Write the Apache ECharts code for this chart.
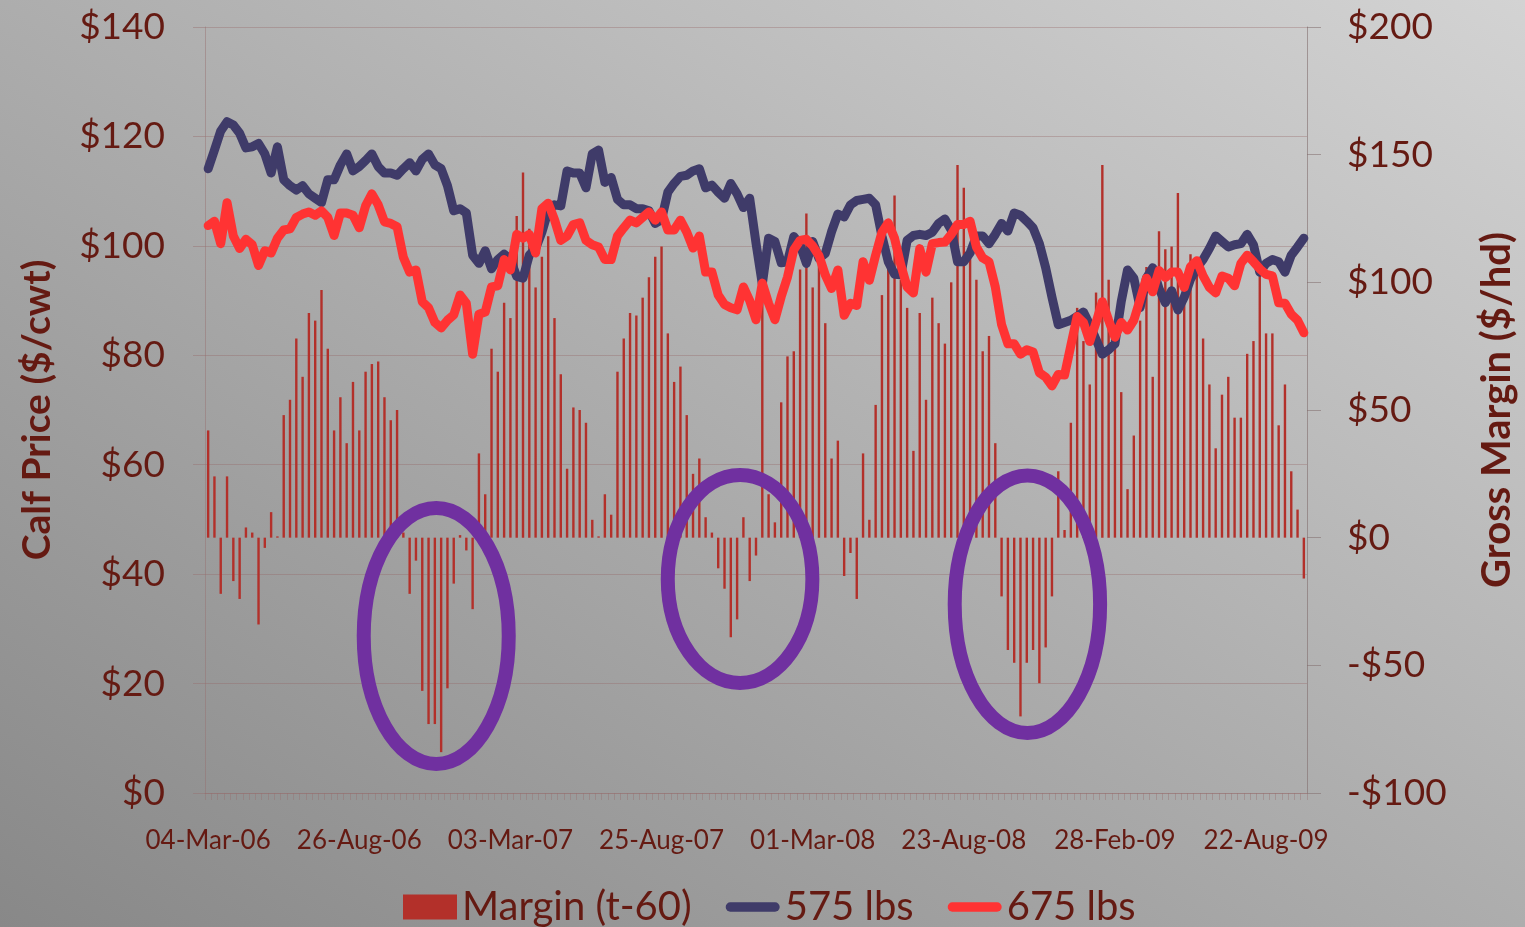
<!DOCTYPE html>
<html><head><meta charset="utf-8">
<script src="https://cdn.jsdelivr.net/npm/echarts@6/dist/echarts.min.js"></script>
<style>
html,body{margin:0;padding:0;width:1525px;height:927px;overflow:hidden;}
#c{width:1525px;height:927px;background:linear-gradient(to bottom left,#d3d3d3 0%,#adadad 50%,#888888 100%);}
</style>
</head><body><div id="c"></div>
<script>
const tickLabels = ['04-Mar-06','26-Aug-06','03-Mar-07','25-Aug-07','01-Mar-08','23-Aug-08','28-Feb-09','22-Aug-09'];

const margin = [
42,24,-22,24,-17,-24,4,2,-34,-4,10,0.5,48,54,78,63,88,85,97,74,
42,55,37,61,42,65,68,69,55,46,50,2,-22,-9,-60,-73,-73,-84,-59,-18,
1,-5,-28,33,17,74,65,92,86,126,143,121,98,110,118,86,64,27,51,50,
45,7,0.5,17,9,65,78,88,87,94,102,110,114,80,61,67,48,25,31,8,
2,-12,-20,-39,-32,8,-17,-7,97,17,6,53,71,73,105,127,98,107,84,31,
38,-15,-6,-24,33,7,52,95,112,134,101,90,34,88,54,94,84,76,100,146,
137,110,101,73,79,37,-23,-44,-49,-70,-49,-44,-57,-43,-23,26,3,45,90,77,
60,96,146,101,74,57,19,40,85,106,63,120,113,114,135,98,111,105,78,60,
35,56,63,47,47,72,77,104,80,80,44,60,26,11,-16
];

const lbs575 = [
114.1,117.5,121,122.7,122.1,120.6,117.9,118.1,118.7,116.8,113.3,118.1,112.1,111,110.2,111,109.5,108.7,107.9,112.1,
112.1,114.8,116.8,113.7,114.5,115.6,116.8,114.5,113.3,113.3,112.9,114.1,115.2,113.7,115.8,116.8,114.8,114.1,111,106.4,
106.8,106,98.3,96.8,99.1,95.8,97.5,98.5,97.5,94.4,94.1,98.3,99.5,102.5,106.4,107.5,107.3,113.7,113.3,113.3,
110.6,116.8,117.5,111.6,112.5,108.5,107.5,107.5,106.8,106.8,106.4,104.1,104.8,109.8,111.4,112.7,112.9,113.7,114.1,110.6,
111.1,109.8,108.7,111.4,109.5,107,108.7,100.5,93,101.4,100.8,96.9,97.1,101.7,100.2,96.8,100.8,97.7,98.6,102.6,
105.8,105.3,107.5,108.3,108.5,108.7,107.5,101.8,97.1,94.8,94.7,101,101.9,102.1,101.9,102.5,104.1,104.9,102.9,97.1,
97.1,98.7,101.8,101.8,100.4,102.1,104.1,102.7,106,105.6,104.5,103.3,100.4,96,90.6,85.6,86,86.4,87.1,87.9,
85.6,82.9,80.2,81,82.1,89.8,95.6,94.1,88.7,94.1,96,92.2,89.6,91.8,88.3,90.6,93.9,96,97.5,99.5,
101.8,100.8,99.8,100.2,100.4,102.1,100.2,95.2,96.8,97.5,97.1,95.2,98.3,99.8,101.4
];

const lbs675 = [
103.7,104.5,100.4,107.9,101.8,99.5,101.2,100.2,96.4,99.1,98.7,101.4,102.9,103.1,105.2,105.8,106.2,105.6,106.4,105.2,
101.9,106,106,105.6,103.3,107.3,109.5,107.5,104.4,104.1,103.5,97.9,95.2,95.6,89.8,88.7,86,85,86.4,87.4,
91,89.5,80.2,87.5,87.9,92.5,92.7,97.5,95.6,102.1,101.4,102.1,98.7,106.8,107.8,104.8,101,101.8,103.9,104.2,
101,100.2,99.8,97.5,97.5,101.8,103.3,104.7,104.2,105.2,106.2,104.7,106.2,102.9,102.9,104.7,102.5,99.6,101.8,95.2,
95.2,91,89.3,88.7,88.3,92.5,90,86.5,93.2,89.5,86.5,90.7,94.3,99.3,101,101.2,100,98.2,94.7,92.2,
95.6,87.3,89.5,89.1,97.1,93.7,98.3,102.5,104.2,101.4,96.5,92.5,91.4,99.5,95.2,100.4,100.6,100.7,102.1,103.9,
103.9,104.5,99.8,97.8,97.1,92.5,85.6,82.1,82.1,80.2,81,80.6,76.8,76,74.4,76.5,76.4,81.8,87.1,86,
82.5,86,89.8,86.4,83.3,86,84.6,86.4,90.2,94.1,91.6,95.5,94.2,95.2,95.2,92.4,96.2,97.3,94.5,92.4,
91.4,94.5,94.1,92.7,96.8,98.3,97.1,95.8,94.8,94.5,89.6,89.5,87.5,86.4,84.1
];

// annotation circles anchored at (category index, margin value)
const circleAt = [36.22, 84.47, 130.1];
const circleMargin = [-38.5, -16.2, -26.1];
const circleRx = [72.5, 72.3, 72.7];
const circleRy = [128, 104, 128.7];

const categories = margin.map((_, i) => i % 24 === 0 ? tickLabels[i / 24] : 'wk' + i);

const TXT = '#651a12';
const FONT = 'Lato';
const LINE_ICON = 'path://M5,0 L53,0 A5,5 0 0 1 53,10 L5,10 A5,5 0 0 1 5,0 Z';

const chart = echarts.init(document.getElementById('c'), null, {renderer: 'canvas'});
chart.setOption({
  backgroundColor: 'transparent',
  animation: false,
  textStyle: {fontFamily: FONT},
  grid: {left: 205, right: 218, top: 27, bottom: 134, outerBoundsMode: 'none'},
  legend: {
    top: 882, left: 398,
    itemWidth: 54, itemHeight: 25, itemGap: 34,
    textStyle: {color: TXT, fontSize: 40, fontFamily: FONT},
    data: [
      {name: 'Margin (t-60)', icon: 'rect'},
      {name: '575 lbs', icon: LINE_ICON},
      {name: '675 lbs', icon: LINE_ICON}
    ]
  },
  xAxis: {
    type: 'category', data: categories, boundaryGap: true,
    axisLine: {lineStyle: {color: 'rgba(150,110,110,0.45)', width: 1}},
    axisTick: {show: true, interval: 0, length: 7, lineStyle: {color: 'rgba(150,110,110,0.4)'}},
    axisLabel: {interval: 23, color: TXT, fontSize: 26, margin: 35, fontFamily: FONT}
  },
  yAxis: [{
    type: 'value', min: 0, max: 140, interval: 20, position: 'left',
    name: 'Calf Price ($/cwt)', nameLocation: 'middle', nameGap: 148, nameRotate: 90,
    nameTextStyle: {color: TXT, fontSize: 39, fontWeight: 'bold', fontFamily: FONT},
    axisLine: {show: true, lineStyle: {color: 'rgba(150,110,110,0.45)'}},
    axisTick: {show: true, length: 12, lineStyle: {color: 'rgba(150,110,110,0.45)'}},
    axisLabel: {formatter: v => '$' + v, color: TXT, fontSize: 37, margin: 40, fontFamily: FONT},
    splitLine: {show: true, lineStyle: {color: 'rgba(150,100,100,0.35)', width: 1}}
  }, {
    type: 'value', min: -100, max: 200, interval: 50, position: 'right',
    name: 'Gross Margin ($/hd)', nameLocation: 'middle', nameGap: 170, nameRotate: 90,
    nameTextStyle: {color: TXT, fontSize: 40, fontWeight: 'bold', fontFamily: FONT},
    axisLine: {show: true, lineStyle: {color: 'rgba(130,110,110,0.6)'}},
    axisTick: {show: true, length: 14, lineStyle: {color: 'rgba(130,110,110,0.55)'}},
    axisLabel: {formatter: v => (v < 0 ? '-$' + (-v) : '$' + v), color: TXT, fontSize: 37, margin: 40, fontFamily: FONT},
    splitLine: {show: false}
  }],
  series: [{
    name: 'Margin (t-60)', type: 'bar', yAxisIndex: 1, data: margin,
    barWidth: 2.4, itemStyle: {color: '#b3302a'}, z: 2
  }, {
    name: '575 lbs', type: 'line', yAxisIndex: 0, data: lbs575,
    symbol: 'none', lineStyle: {color: '#3f3b69', width: 9, cap: 'round', join: 'round'},
    itemStyle: {color: '#3f3b69'}, z: 3
  }, {
    name: '675 lbs', type: 'line', yAxisIndex: 0, data: lbs675,
    symbol: 'none', lineStyle: {color: '#ff3333', width: 9, cap: 'round', join: 'round'},
    itemStyle: {color: '#ff3333'}, z: 4
  }]
});

function px(at, val) {
  const i0 = Math.floor(at), f = at - i0;
  const a = chart.convertToPixel({xAxisIndex: 0, yAxisIndex: 1}, [i0, val]);
  const b = chart.convertToPixel({xAxisIndex: 0, yAxisIndex: 1}, [i0 + 1, val]);
  return [a[0] + (b[0] - a[0]) * f, a[1]];
}
const graphics = circleAt.map((at, k) => {
  const p = px(at, circleMargin[k]);
  return {
    type: 'ellipse', z: 100,
    shape: {cx: p[0], cy: p[1], rx: circleRx[k], ry: circleRy[k]},
    style: {fill: 'none', stroke: '#7030a0', lineWidth: 14}
  };
});
chart.setOption({graphic: graphics});
</script>
</body></html>
